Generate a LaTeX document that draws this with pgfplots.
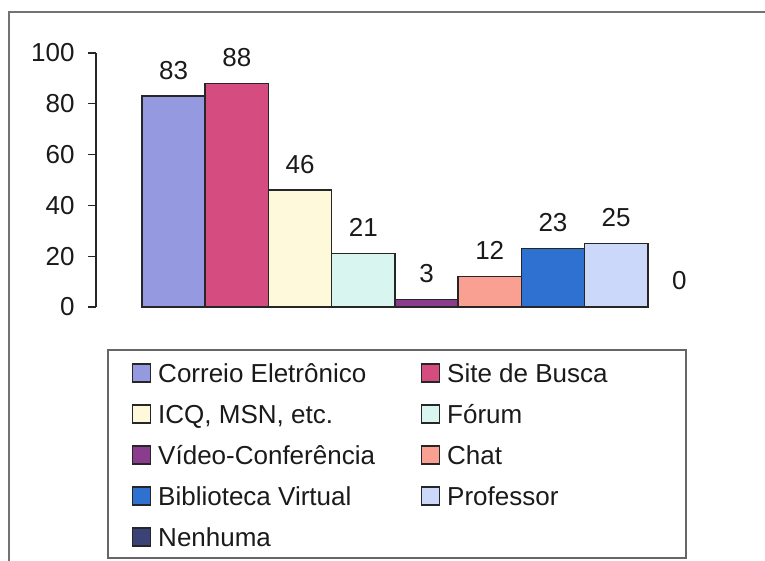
\documentclass[border=0pt]{standalone}
\usepackage{fontspec}
\setmainfont{Liberation Sans}
\usepackage{pgfplots}
\pgfplotsset{compat=1.18}

\definecolor{cCorreio}{HTML}{9499E0}
\definecolor{cBusca}{HTML}{D44C80}
\definecolor{cICQ}{HTML}{FFF9DC}
\definecolor{cForum}{HTML}{D8F5F0}
\definecolor{cVideo}{HTML}{8C3C8C}
\definecolor{cChat}{HTML}{F9A092}
\definecolor{cBiblio}{HTML}{2F71D0}
\definecolor{cProf}{HTML}{CCD8FA}
\definecolor{cNenhuma}{HTML}{3B4275}
\definecolor{txt}{HTML}{1A1A1A}

\newcommand{\chartfont}{\fontsize{13}{15}\selectfont}

\pgfplotsset{
  mybar/.style={
    ybar, bar width=1, bar shift=0pt,
    draw=black!85, line width=0.8pt, fill=#1,
    legend image code/.code={%
      \draw[##1, draw=black!85, line width=0.6pt] (0pt,-3.2pt) rectangle (9pt,5.8pt);},
  },
}

\begin{document}
\begin{tikzpicture}
\useasboundingbox (0,0) rectangle (382.5pt,280.5pt);
\clip (0,0) rectangle (382.5pt,280.5pt);
% outer frame and legend frame
\draw[black!55, line width=0.6pt] (4.5pt,-5pt) rectangle (390pt,274.5pt);
\draw[black!60, line width=0.6pt] (54pt,1.5pt) rectangle (343pt,105.5pt);

\begin{axis}[
  at={(48pt,127pt)}, anchor=south west,
  scale only axis, width=330.5pt, height=127pt,
  xmin=-0.227, xmax=10.227, ymin=0, ymax=100,
  axis x line=none, axis y line*=left,
  ytick={0,20,40,60,80,100},
  tick align=outside, major tick length=4pt,
  ytick style={black!85, line width=0.6pt},
  y axis line style={black!85, line width=0.7pt},
  yticklabel style={font=\chartfont, text=txt, inner sep=0pt, xshift=-6.5pt},
  /pgf/number format/assume math mode=true,
  nodes near coords,
  every node near coord/.append style={font=\chartfont, text=txt,
    anchor=base, inner sep=0pt, yshift=8.5pt},
  clip=false,
  legend columns=2,
  legend cell align=left,
  legend style={
    at={(axis description cs:0.0545,-0.2205)}, anchor=north west,
    draw=none, fill=none, inner sep=0pt, outer sep=0pt,
    font=\chartfont, text=txt, row sep=8pt,
    nodes={inner sep=0pt, text height=9.5pt, text depth=3pt},
    /tikz/every odd column/.append style={column sep=3.5pt},
    /tikz/every even column/.append style={column sep=23pt},
  },
]
\addplot[mybar=cCorreio] coordinates {(1,83)};
\addplot[mybar=cBusca]   coordinates {(2,88)};
\addplot[mybar=cICQ]     coordinates {(3,46)};
\addplot[mybar=cForum]   coordinates {(4,21)};
\addplot[mybar=cVideo]   coordinates {(5,3)};
\addplot[mybar=cChat]    coordinates {(6,12)};
\addplot[mybar=cBiblio]  coordinates {(7,23)};
\addplot[mybar=cProf]    coordinates {(8,25)};
% zero bar: nothing visible but its label, the legend keeps the colour
\addplot[mybar=cNenhuma, draw=none, fill=none,
  legend image code/.code={%
    \draw[draw=black!85, fill=cNenhuma, line width=0.6pt] (0pt,-3.2pt) rectangle (9pt,5.8pt);}]
  coordinates {(9,0)};
\legend{Correio Eletrônico, Site de Busca, {ICQ, MSN, etc.}, Fórum,
  Vídeo-Conferência, Chat, Biblioteca Virtual, Professor, Nenhuma}
\end{axis}
\end{tikzpicture}
\end{document}
